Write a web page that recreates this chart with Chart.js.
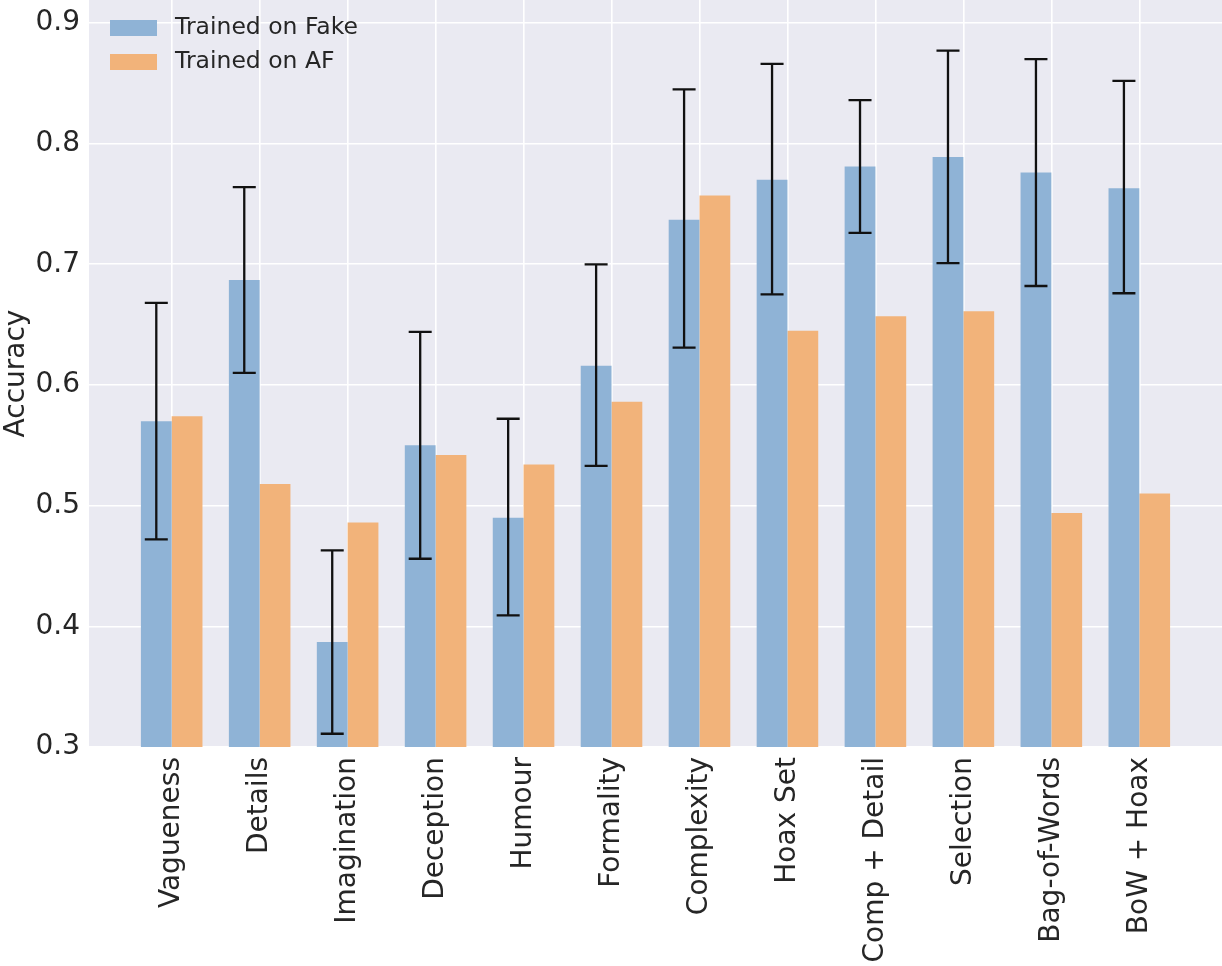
<!DOCTYPE html>
<html>
<head>
<meta charset="utf-8">
<script src="https://cdn.jsdelivr.net/npm/chart.js@4.4.1/dist/chart.umd.min.js"></script>
<style>
  html, body { margin: 0; padding: 0; background: #ffffff; }
  canvas { display: block; }
</style>
</head>
<body>
<canvas id="chart" width="1222" height="966"></canvas>
<script>
// Feature sets compared along the x axis
const categories = [
  'Vagueness', 'Details', 'Imagination', 'Deception', 'Humour', 'Formality',
  'Complexity', 'Hoax Set', 'Comp + Detail', 'Selection', 'Bag-of-Words', 'BoW + Hoax'
];

// Mean accuracy per feature set
const trainedOnFake = [0.570, 0.687, 0.387, 0.550, 0.490, 0.616, 0.737, 0.770, 0.781, 0.789, 0.776, 0.763];
const trainedOnAF   = [0.574, 0.518, 0.486, 0.542, 0.534, 0.586, 0.757, 0.645, 0.657, 0.661, 0.494, 0.510];

// Error-bar extents for the "Trained on Fake" series
const fakeLower = [0.472, 0.610, 0.311, 0.456, 0.409, 0.533, 0.631, 0.675, 0.726, 0.701, 0.682, 0.676];
const fakeUpper = [0.668, 0.764, 0.463, 0.644, 0.572, 0.700, 0.845, 0.866, 0.836, 0.877, 0.870, 0.852];

// Axis ticks
const yTicks = [0.3, 0.4, 0.5, 0.6, 0.7, 0.8, 0.9];
const yRange = [0.3, 0.919];
const xRange = [-0.94, categories.length - 1 + 0.94];

const seriesNames = ['Trained on Fake', 'Trained on AF'];
const FONT = '"DejaVu Sans", "Liberation Sans", sans-serif';
const TEXT = '#262626';
const PLOT_BG = '#EAEAF2';
const BLUE = 'rgb(143, 179, 214)';
const ORANGE = 'rgb(242, 179, 122)';

const toPoints = arr => arr.map((v, i) => ({ x: i, y: v }));

// Plot panel background, painted under the grid
const panelBackground = {
  id: 'panelBackground',
  beforeDraw(chart) {
    const { ctx, chartArea: a } = chart;
    ctx.save();
    ctx.fillStyle = '#ffffff';
    ctx.fillRect(0, 0, chart.width, chart.height);
    ctx.fillStyle = PLOT_BG;
    ctx.fillRect(a.left, a.top, a.right - a.left, a.bottom - a.top);
    ctx.restore();
  }
};

// Vertical error bars with caps on the first series
const errorBars = {
  id: 'errorBars',
  afterDatasetsDraw(chart) {
    const { ctx } = chart;
    const yScale = chart.scales.y;
    const meta = chart.getDatasetMeta(0);
    ctx.save();
    ctx.strokeStyle = '#111111';
    ctx.lineWidth = 2.3;
    const cap = 11.5;
    meta.data.forEach((bar, i) => {
      const x = bar.x;
      const yLo = yScale.getPixelForValue(fakeLower[i]);
      const yHi = yScale.getPixelForValue(fakeUpper[i]);
      ctx.beginPath();
      ctx.moveTo(x, yLo); ctx.lineTo(x, yHi);
      ctx.moveTo(x - cap, yHi); ctx.lineTo(x + cap, yHi);
      ctx.moveTo(x - cap, yLo); ctx.lineTo(x + cap, yLo);
      ctx.stroke();
    });
    ctx.restore();
  }
};

// Legend in the upper-left corner of the panel
const cornerLegend = {
  id: 'cornerLegend',
  afterDraw(chart) {
    const { ctx, chartArea: a } = chart;
    ctx.save();
    ctx.font = '23.5px ' + FONT;
    ctx.textBaseline = 'middle';
    ctx.textAlign = 'left';
    chart.data.datasets.forEach((ds, i) => {
      const rowY = a.top + 28 + i * 34;
      ctx.fillStyle = ds.backgroundColor;
      ctx.fillRect(a.left + 21, rowY - 8, 47, 16);
      ctx.fillStyle = TEXT;
      ctx.fillText(ds.label, a.left + 86, rowY);
    });
    ctx.restore();
  }
};

new Chart(document.getElementById('chart'), {
  type: 'bar',
  data: {
    datasets: [
      { label: seriesNames[0], data: toPoints(trainedOnFake), backgroundColor: BLUE, borderWidth: 0 },
      { label: seriesNames[1], data: toPoints(trainedOnAF), backgroundColor: ORANGE, borderWidth: 0 }
    ]
  },
  options: {
    responsive: false,
    animation: false,
    devicePixelRatio: 1,
    layout: { padding: 0 },
    categoryPercentage: 0.7,
    barPercentage: 1.0,
    plugins: {
      legend: { display: false },
      tooltip: { enabled: false }
    },
    scales: {
      x: {
        type: 'linear',
        min: xRange[0],
        max: xRange[1],
        offset: false,
        afterBuildTicks: scale => { scale.ticks = categories.map((_, i) => ({ value: i })); },
        afterFit: scale => {
          scale.height = 219;
          scale.paddingLeft = 0;
          scale.paddingRight = 0;
        },
        ticks: {
          autoSkip: false,
          minRotation: 90,
          maxRotation: 90,
          padding: 10,
          color: TEXT,
          font: { family: FONT, size: 28 },
          callback: value => categories[value] ?? ''
        },
        grid: { color: '#ffffff', lineWidth: 1.6, drawTicks: false, offset: false },
        border: { display: false }
      },
      y: {
        min: yRange[0],
        max: yRange[1],
        afterBuildTicks: scale => { scale.ticks = yTicks.map(v => ({ value: v })); },
        afterFit: scale => {
          scale.width = 89;
          scale.paddingTop = 0;
          scale.paddingBottom = 0;
        },
        ticks: {
          padding: 9,
          color: TEXT,
          font: { family: FONT, size: 28 },
          callback: value => value.toFixed(1)
        },
        grid: { color: '#ffffff', lineWidth: 1.6, drawTicks: false },
        border: { display: false },
        title: {
          display: true,
          text: 'Accuracy',
          color: TEXT,
          font: { family: FONT, size: 28 },
          padding: { top: 0, bottom: 0 }
        }
      }
    }
  },
  plugins: [panelBackground, errorBars, cornerLegend]
});
</script>
</body>
</html>
